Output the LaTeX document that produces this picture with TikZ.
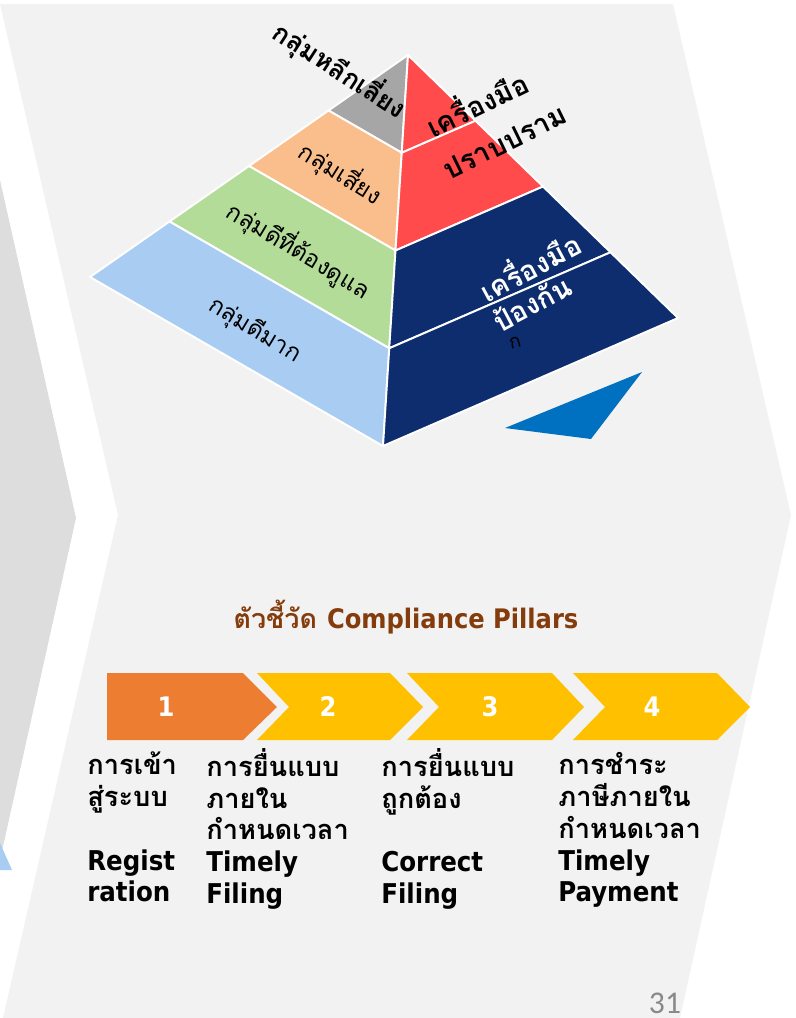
\documentclass[tikz,border=0pt]{standalone}
\usepackage{fontspec}
\usetikzlibrary{calc}
\newfontfamily\thaifont[Script=Thai]{Loma}
\newfontfamily\latfont{DejaVu Sans Condensed}
\newfontfamily\numfont{Carlito}
\newcommand\tht[1]{{\thaifont #1}}
\newcommand\lat[1]{{\latfont #1}}
\newcommand\topstrut{\rule{0pt}{15pt}}
\definecolor{BgLight}{HTML}{F2F2F2}
\definecolor{BgDark}{HTML}{DDDDDD}
\definecolor{PyGray}{HTML}{A6A6A6}
\definecolor{PyPeach}{HTML}{FABE8C}
\definecolor{PyGreen}{HTML}{B3DC99}
\definecolor{PyBlue}{HTML}{A9CDF2}
\definecolor{PyRed}{HTML}{FF4B4B}
\definecolor{PyNavy}{HTML}{0D2D6E}
\definecolor{PyTri}{HTML}{0070C0}
\definecolor{TDOrange}{HTML}{ED7D31}
\definecolor{TDGold}{HTML}{FFC000}
\definecolor{TDBrown}{HTML}{843C0C}
\definecolor{PgGray}{HTML}{898989}

\begin{document}
\lineskiplimit=-50pt
\begin{tikzpicture}[x=0.02cm, y=-0.02cm,
    band/.style={draw=white, line width=1.1pt, line join=round},
    flab/.style={inner sep=0pt, font=\thaifont\fontsize{13.5}{13.5}\selectfont},
    blab/.style={inner sep=0pt, font=\thaifont\bfseries\fontsize{16}{16}\selectfont},
    num/.style={text=white, font=\latfont\bfseries\fontsize{15.3}{15.3}\selectfont},
    col/.style={anchor=north west, align=left, inner sep=0pt,
                font=\bfseries\fontsize{15.5}{18.1}\selectfont}
  ]
  \useasboundingbox (0,0) rectangle (795,1018);
  % background panels
  \fill[BgLight] (0,4) -- (673,4) -- (791,515) -- (680,1018) -- (3,1018) -- (118,515) -- cycle;
  \fill[BgDark] (0,180) -- (76,518) -- (0,860) -- cycle;
  \fill[PyBlue] (0,843) -- (12,870) -- (0,870) -- cycle;

  % pyramid
  \coordinate (A) at (408,55);
  \coordinate (L) at (90,277);
  \coordinate (F) at (383,446);
  \coordinate (R) at (678,318);
  \foreach \k/\cl/\cr in {0/PyGray/PyRed, 1/PyPeach/PyRed, 2/PyGreen/PyNavy, 3/PyBlue/PyNavy}{
    \pgfmathsetmacro\ta{\k/4}
    \pgfmathsetmacro\tb{(\k+1)/4}
    \filldraw[band, fill=\cl] ($(A)!\ta!(L)$) -- ($(A)!\tb!(L)$) -- ($(A)!\tb!(F)$) -- ($(A)!\ta!(F)$) -- cycle;
    \filldraw[band, fill=\cr] ($(A)!\ta!(R)$) -- ($(A)!\tb!(R)$) -- ($(A)!\tb!(F)$) -- ($(A)!\ta!(F)$) -- cycle;
  }
  \fill[PyTri] (505,428) -- (642,372) -- (591,439) -- cycle;

  % pyramid labels
  \node[blab, rotate=-33, font=\thaifont\bfseries\fontsize{15}{15}\selectfont] (avoid) at (340,70) {กลุ่มหลีกเลี่ยง};
  \node[flab, rotate=-32] (risk)  at (341,173) {กลุ่มเสี่ยง};
  \node[flab, rotate=-31] (care)  at (299,250) {กลุ่มดีที่ต้องดูแล};
  \node[flab, rotate=-31] (good)  at (255,330) {กลุ่มดีมาก};
  \node[blab, rotate=26] (tool1) at (476,102) {เครื่องมือ};
  \node[blab, rotate=26] (supp)  at (505,142) {ปราบปราม};
  \node[blab, rotate=28, text=white] (tool2) at (529,265) {เครื่องมือ};
  \node[blab, rotate=28, text=white] (prev)  at (532,303) {ป้องกัน};
  \node[flab, rotate=15, font=\thaifont\fontsize{11}{11}\selectfont] (ko) at (515,343) {ก};

  % compliance pillars
  \node[text=TDBrown, font=\bfseries\fontsize{15.3}{15.3}\selectfont] (title) at (406,617)
    {\tht{ตัวชี้วัด} \lat{Compliance Pillars}};
  \foreach \l/\n/\r/\p/\c/\x/\i in {107/107/243/277/TDOrange/166/1, 257/289/390/423/TDGold/328/2,
      407/439/552/584/TDGold/490/3, 573/605/717/750/TDGold/652/4}{
    \fill[\c] (\l,673) -- (\r,673) -- (\p,707) -- (\r,740) -- (\l,740) -- (\n,707) -- cycle;
    \node[num] (n\i) at (\x,707) {\i};
  }
  \node[col] (reg) at (87,748)
    {\topstrut\tht{การเข้า}\\ \tht{สู่ระบบ}\\ \mbox{}\\ \lat{Regist}\\ \lat{ration}};
  \node[col] (tfile) at (206,748)
    {\topstrut\tht{การยื่นแบบ}\\ \tht{ภายใน}\\ \tht{กำหนดเวลา}\\ \lat{Timely}\\ \lat{Filing}};
  \node[col] (cfile) at (381,748)
    {\topstrut\tht{การยื่นแบบ}\\ \tht{ถูกต้อง}\\ \mbox{}\\ \lat{Correct}\\ \lat{Filing}};
  \node[col] (tpay) at (558,748)
    {\topstrut\tht{การชำระ}\\ \tht{ภาษีภายใน}\\ \tht{กำหนดเวลา}\\ \lat{Timely}\\ \lat{Payment}};

  \node[text=PgGray, font=\numfont\fontsize{18}{18}\selectfont] (page) at (665,1003) {31};
\end{tikzpicture}
\end{document}
